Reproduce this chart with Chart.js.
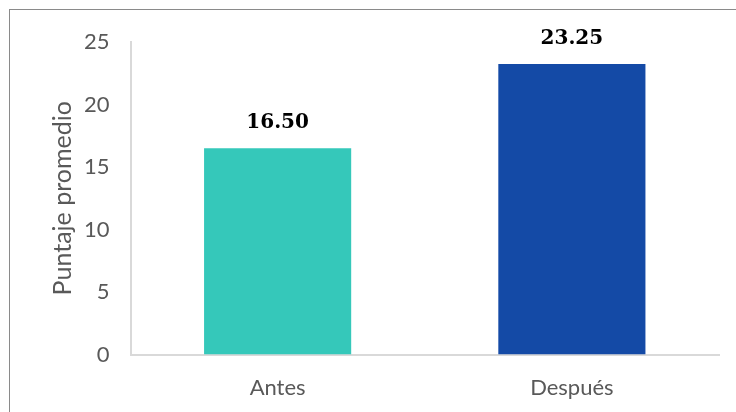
<!DOCTYPE html>
<html>
<head>
<meta charset="utf-8">
<script src="https://cdn.jsdelivr.net/npm/chart.js@4.4.1/dist/chart.umd.min.js"></script>
<style>
html,body{margin:0;padding:0;background:#fff;overflow:hidden;width:736px;height:412px;}
#frame{position:absolute;left:9px;top:9px;width:900px;height:600px;border:1.5px solid #8a8a8a;box-sizing:border-box;}
#wrap{position:absolute;left:0;top:0;width:736px;height:412px;}
</style>
</head>
<body>
<div id="frame"></div>
<div id="wrap"><canvas id="c" width="736" height="412"></canvas></div>
<script>
const categories = ["Antes", "Después"];
const values = [16.50, 23.25];
const barColors = ["#35C8BA", "#144AA6"];
const yTicks = [0, 5, 10, 15, 20, 25];
const yTitle = "Puntaje promedio";

const valueLabels = {
  id: 'valueLabels',
  afterDatasetsDraw(chart) {
    const ctx = chart.ctx;
    const meta = chart.getDatasetMeta(0);
    ctx.save();
    ctx.font = 'bold 20px "DejaVu Serif"';
    ctx.fillStyle = '#000';
    ctx.textAlign = 'center';
    ctx.textBaseline = 'middle';
    meta.data.forEach((bar, i) => {
      ctx.fillText(values[i].toFixed(2), bar.x, bar.y - 25);
    });
    ctx.restore();
  }
};

new Chart(document.getElementById('c'), {
  type: 'bar',
  data: {
    labels: categories,
    datasets: [{
      data: values,
      backgroundColor: barColors,
      borderWidth: 0,
      categoryPercentage: 0.5,
      barPercentage: 1.0
    }]
  },
  options: {
    responsive: false,
    animation: false,
    devicePixelRatio: 1,
    layout: { padding: { left: 48, top: 42, right: 17, bottom: 0 } },
    plugins: { legend: { display: false }, tooltip: { enabled: false } },
    scales: {
      x: {
        grid: { display: false, drawTicks: false },
        border: { display: true, color: '#d9d9d9', width: 2 },
        ticks: { color: '#595959', font: { family: 'Lato', size: 22 }, padding: 20 },
        afterFit(s) { s.height = 57.5; }
      },
      y: {
        min: 0, max: 25,
        afterBuildTicks(s) { s.ticks = yTicks.map(v => ({ value: v })); },
        grid: { display: false, drawTicks: false },
        border: { display: true, color: '#d9d9d9', width: 2 },
        ticks: { color: '#595959', font: { family: 'Lato', size: 22 }, padding: 21 },
        title: { display: true, text: yTitle, color: '#595959', font: { family: 'Lato', size: 25 }, padding: 0 },
        afterFit(s) { s.width = 82.5; }
      }
    }
  },
  plugins: [valueLabels]
});
</script>
</body>
</html>
